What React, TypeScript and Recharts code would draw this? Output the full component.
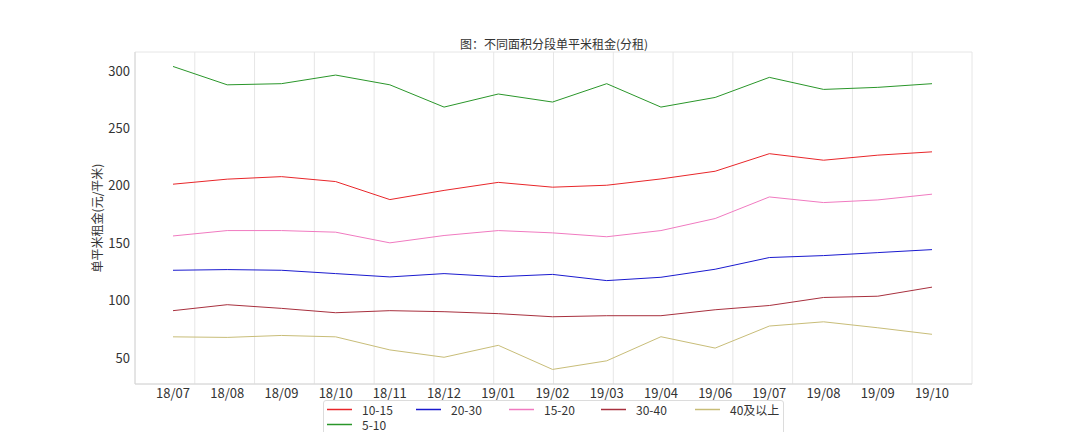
import React from "react";
import { LineChart, Line, XAxis, YAxis, CartesianGrid } from "recharts";

const months = ["18/07","18/08","18/09","18/10","18/11","18/12","19/01","19/02","19/03","19/04","19/06","19/07","19/08","19/09","19/10"];

const s10_15 = [201.4,205.8,208,203.7,188,196,203,198.8,200.5,206,212.7,228,222.3,226.7,229.6];
const s20_30 = [126.4,127,126.4,123.5,120.6,123.5,120.8,122.8,117.4,120.3,127.3,137.5,139.2,141.8,144.4];
const s15_20 = [156.3,161,161,159.6,150.3,156.7,161,159,155.6,161,171.5,190.3,185.4,187.7,192.7];
const s30_40 = [91.2,96.4,93.2,89.4,91.2,90.3,88.6,85.9,86.8,86.8,92,95.7,102.7,103.8,111.7];
const s40up = [68.4,67.9,69.6,68.4,57,50.6,61,40,47.5,68.5,58.6,77.8,81.5,76.3,70.6];
const s5_10 = [304,288,289,296.5,288,268.6,280,273,289,268.6,277,294.5,284,285.8,289];

const yTicks = [50, 100, 150, 200, 250, 300];

const seriesNames = ["10-15", "20-30", "15-20", "30-40", "40及以上", "5-10"];
const seriesValues = [s10_15, s20_30, s15_20, s30_40, s40up, s5_10];
const seriesColors = ["#e8262a", "#1a1acf", "#f07ac0", "#a8303e", "#c8bd78", "#2a962a"];

const data = months.map((m, i) => {
  const row: Record<string, any> = { month: m };
  seriesNames.forEach((n, k) => { row[n] = seriesValues[k][i]; });
  return row;
});

const FONT = "'Noto Sans CJK SC', 'DejaVu Sans', sans-serif";
const legendCols = [89, 93, 92, 94, 88];

export default function App() {
  return (
    <div style={{ position: "absolute", left: 0, top: 0, width: 1080, height: 432, background: "#fff", fontFamily: FONT, overflow: "hidden" }}>
      <LineChart
        width={1080}
        height={432}
        data={data}
        margin={{ top: 52, right: 108, bottom: 18, left: 0 }}
      >
        <CartesianGrid stroke="#e6e6e6" strokeWidth={1} vertical={true} horizontal={true} />
        <XAxis
          dataKey="month"
          xAxisId="main"
          padding={{ left: 38, right: 40 }}
          height={30}
          tickLine={false}
          tickSize={0}
          tickMargin={5}
          axisLine={{ stroke: "#d6d6d6" }}
          interval={0}
          tick={{ fill: "#333", fontSize: 13, fontFamily: FONT }}
        />
        <XAxis xAxisId="top" orientation="top" dataKey="month" height={0} tick={false} tickLine={false} axisLine={{ stroke: "#d6d6d6" }} />
        <YAxis
          yAxisId="main"
          width={135}
          domain={[27.3, 316.6]}
          ticks={yTicks}
          type="number"
          allowDataOverflow
          tickLine={false}
          tickSize={0}
          tickMargin={5}
          axisLine={{ stroke: "#d6d6d6" }}
          tick={{ fill: "#333", fontSize: 13, fontFamily: FONT }}
        />
        <YAxis yAxisId="right" orientation="right" width={0} tick={false} tickLine={false} axisLine={{ stroke: "#d6d6d6" }} domain={[27.3, 316.6]} />
        {seriesNames.map((n, k) => (
          <Line
            key={n}
            xAxisId="main"
            yAxisId="main"
            dataKey={n}
            type="linear"
            stroke={seriesColors[k]}
            strokeWidth={1}
            dot={false}
            activeDot={false}
            isAnimationActive={false}
          />
        ))}
      </LineChart>
      <div style={{ position: "absolute", left: 0, top: 36, width: 1108, textAlign: "center", fontSize: 12, color: "#333", lineHeight: "16px" }}>
        图：不同面积分段单平米租金(分租)
      </div>
      <div style={{ position: "absolute", left: 97, top: 218, transform: "translate(-50%, -50%) rotate(-90deg)", fontSize: 12, color: "#333", whiteSpace: "nowrap", lineHeight: "14px" }}>
        单平米租金(元/平米)
      </div>
      <div style={{ position: "absolute", left: 323, top: 400, width: 461, height: 40, border: "1px solid #dcdcdc", borderRadius: 3, background: "#fff", boxSizing: "border-box" }}>
        <div style={{ display: "grid", gridTemplateColumns: legendCols.map((w) => w + "px").join(" "), paddingLeft: 3, paddingTop: 1 }}>
          {seriesNames.map((n, k) => (
            <div key={n} style={{ display: "flex", alignItems: "center", height: 15, whiteSpace: "nowrap" }}>
              <svg width={25} height={15} style={{ flexShrink: 0, marginRight: 10, display: "block" }}>
                <line x1={0} x2={25} y1={7.5} y2={7.5} stroke={seriesColors[k]} strokeWidth={1.5} />
              </svg>
              <span style={{ fontSize: 12, lineHeight: "13px", color: "#333" }}>{n}</span>
            </div>
          ))}
        </div>
      </div>
    </div>
  );
}
